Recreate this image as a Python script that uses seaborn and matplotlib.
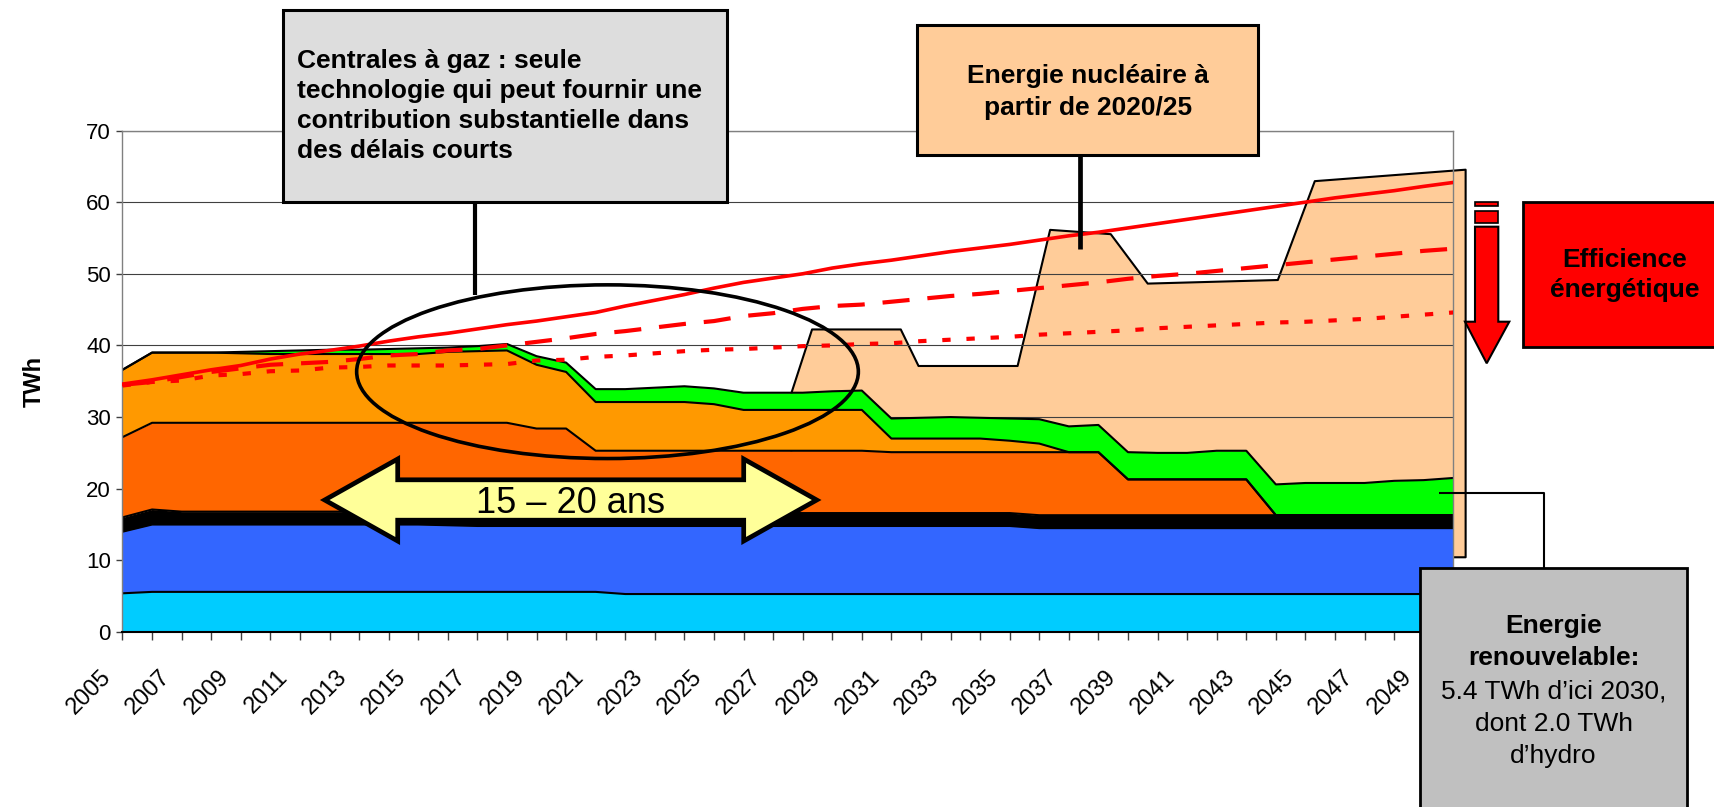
import numpy as np
import matplotlib
matplotlib.use("Agg")
import matplotlib.pyplot as plt
import seaborn as sns
from matplotlib.patches import Rectangle, Polygon, Ellipse
from matplotlib.lines import Line2D
from matplotlib.transforms import ScaledTranslation

years = list(range(2005, 2051))
tick_years = list(range(2005, 2050, 2))

# production par filiere (TWh), du bas vers le haut de la pile
cyan_twh = [5.4, 5.6, 5.6, 5.6, 5.6, 5.6, 5.6, 5.6, 5.6, 5.6,
            5.6, 5.6, 5.6, 5.6, 5.6, 5.6, 5.6, 5.3, 5.3, 5.3,
            5.3, 5.3, 5.3, 5.3, 5.3, 5.3, 5.3, 5.3, 5.3, 5.3,
            5.3, 5.3, 5.3, 5.3, 5.3, 5.3, 5.3, 5.3, 5.3, 5.3,
            5.3, 5.3, 5.3, 5.3, 5.3, 5.3]
blue_twh = [8.6, 9.4, 9.4, 9.4, 9.4, 9.4, 9.4, 9.4, 9.4, 9.4,
            9.4, 9.3, 9.2, 9.2, 9.2, 9.2, 9.2, 9.5, 9.5, 9.5,
            9.5, 9.5, 9.5, 9.5, 9.5, 9.5, 9.5, 9.5, 9.5, 9.5,
            9.5, 9.2, 9.2, 9.2, 9.2, 9.2, 9.2, 9.2, 9.2, 9.2,
            9.2, 9.2, 9.2, 9.2, 9.2, 9.2]
black_twh = [2.0, 2.1, 1.8, 1.8, 1.8, 1.8, 1.8, 1.8, 1.8, 1.8,
             1.8, 1.8, 1.8, 1.8, 1.8, 1.8, 1.8, 1.8, 1.8, 1.8,
             1.8, 1.8, 1.8, 1.8, 1.8, 1.8, 1.8, 1.8, 1.8, 1.8,
             1.8, 1.8, 1.8, 1.8, 1.8, 1.8, 1.8, 1.8, 1.8, 1.8,
             1.8, 1.8, 1.8, 1.8, 1.8, 1.8]
darkorange_twh = [11.2, 12.1, 12.4, 12.4, 12.4, 12.4, 12.4, 12.4, 12.4, 12.4,
                  12.4, 12.5, 12.6, 12.6, 11.8, 11.8, 8.7, 8.7, 8.7, 8.7,
                  8.7, 8.7, 8.7, 8.7, 8.7, 8.7, 8.5, 8.5, 8.5, 8.5,
                  8.5, 8.8, 8.8, 8.8, 5.0, 5.0, 5.0, 5.0, 5.0, 0.0,
                  0.0, 0.0, 0.0, 0.0, 0.0, 0.0]
orange_twh = [9.4, 9.8, 9.8, 9.8, 9.7, 9.6, 9.6, 9.6, 9.6, 9.6,
              9.6, 9.9, 10.0, 10.1, 8.9, 7.9, 6.8, 6.8, 6.8, 6.8,
              6.5, 5.7, 5.7, 5.7, 5.7, 5.7, 1.9, 1.9, 1.9, 1.9,
              1.6, 1.2, 0.0, 0.0, 0.0, 0.0, 0.0, 0.0, 0.0, 0.0,
              0.0, 0.0, 0.0, 0.0, 0.0, 0.0]
green_twh = [0.0, 0.0, 0.0, 0.0, 0.2, 0.4, 0.5, 0.6, 0.6, 0.7,
             0.8, 0.6, 0.7, 0.9, 1.2, 1.3, 1.8, 1.8, 2.0, 2.2,
             2.2, 2.4, 2.4, 2.4, 2.6, 2.7, 2.8, 2.9, 3.0, 2.9,
             3.1, 3.4, 3.6, 3.8, 3.8, 3.7, 3.7, 4.0, 4.0, 4.3,
             4.5, 4.5, 4.5, 4.8, 4.9, 5.2]

# demande (TWh)
demand_high = [34.6, 35.2, 35.9, 36.6, 37.2, 38.1, 38.8, 39.3, 39.9, 40.6,
               41.2, 41.7, 42.3, 42.9, 43.4, 44.0, 44.6, 45.5, 46.3, 47.1,
               48.0, 48.8, 49.4, 50.0, 50.8, 51.4, 51.9, 52.5, 53.1, 53.6,
               54.1, 54.7, 55.3, 55.8, 56.4, 57.0, 57.6, 58.2, 58.8, 59.4,
               60.0, 60.6, 61.1, 61.6, 62.2, 62.75]
demand_mid = [34.5, 34.9, 35.6, 36.3, 36.8, 37.3, 37.5, 37.7, 38.1, 38.6,
              38.8, 39.3, 39.5, 40.0, 40.5, 41.0, 41.6, 42.0, 42.5, 43.0,
              43.4, 44.1, 44.5, 45.1, 45.5, 45.7, 46.1, 46.5, 46.9, 47.2,
              47.6, 48.0, 48.4, 48.8, 49.3, 49.7, 50.0, 50.4, 50.8, 51.2,
              51.6, 52.0, 52.4, 52.8, 53.2, 53.5]
demand_low = [34.4, 34.9, 35.1, 35.8, 36.0, 36.4, 36.5, 36.9, 37.0, 37.2,
              37.2, 37.2, 37.3, 37.4, 37.9, 38.0, 38.4, 38.6, 38.9, 39.2,
              39.4, 39.5, 39.7, 39.9, 40.0, 40.2, 40.3, 40.6, 40.8, 41.0,
              41.2, 41.5, 41.7, 41.9, 42.1, 42.4, 42.6, 42.8, 43.0, 43.2,
              43.3, 43.5, 43.7, 44.0, 44.3, 44.6]

# bloc nucleaire (contour superieur, annee / TWh)
nuc_years = [2027.6, 2028.3, 2031.3, 2031.9, 2035.25, 2036.35, 2038.4, 2039.65, 2044.05, 2045.3, 2050.4]
nuc_top = [33.4, 42.3, 42.3, 37.2, 37.2, 56.2, 55.6, 48.7, 49.2, 63.0, 64.6]
nuc_base = 10.5

sns.set_style("white")
plt.rcParams['font.family'] = ['Liberation Sans', 'DejaVu Sans']
plt.rcParams['text.color'] = 'black'
plt.rcParams['axes.labelcolor'] = 'black'

W, H = 1715, 807
fig = plt.figure(figsize=(W / 100, H / 100), dpi=100)
ax = fig.add_axes([122.5 / W, 1 - 632 / H, (1453.3 - 122.5) / W, (632 - 130.5) / H])


def fx(x):
    return x / W


def fy(y):
    return 1 - y / H


# stacked areas
layers = np.array([cyan_twh, blue_twh, black_twh, darkorange_twh, orange_twh, green_twh])
colors = ['#00CCFF', '#3366FF', '#000000', '#FF6600', '#FF9900', '#00FF00']
tops = np.cumsum(layers, axis=0)
bottom = np.zeros(len(years))
for top, c in zip(tops, colors):
    ax.fill_between(years, bottom, top, color=c, lw=0, zorder=2)
    ax.plot(years, top, color='black', lw=1.5, zorder=2.2)
    bottom = top

# nuclear block sits behind the grid
ax.fill_between(nuc_years, nuc_base, nuc_top, facecolor='#FFCC99', edgecolor='black',
                lw=1.5, zorder=1, clip_on=False)

# demand scenarios
sns.lineplot(x=years, y=demand_high, color='#FF0000', lw=2.6, ax=ax, zorder=3)
sns.lineplot(x=years, y=demand_mid, color='#FF0000', lw=3, linestyle=(0, (6.5, 4.3)), ax=ax, zorder=3)
sns.lineplot(x=years, y=demand_low, color='#FF0000', lw=3, linestyle=(0, (2.0, 3.8)), ax=ax, zorder=3)

ax.set_xlim(2005, 2050)
ax.set_ylim(0, 70)
ax.set_yticks(range(0, 71, 10))
ax.set_xticks(years)
ax.set_xticklabels([str(y) if y in tick_years else '' for y in years],
                   rotation=45, ha='right', va='center', rotation_mode='anchor')
ax.tick_params(axis='x', bottom=True, length=5.8, width=1, pad=24, labelsize=17,
               color='#404040', labelcolor='black')
ax.tick_params(axis='y', left=True, length=4.3, width=1, pad=4, labelsize=16,
               color='#404040', labelcolor='black')
shift = ScaledTranslation(-0.15, 0, fig.dpi_scale_trans)
for lab in ax.get_xticklabels():
    lab.set_transform(lab.get_transform() + shift)

ax.yaxis.grid(True, color='#404040', lw=0.8)
ax.xaxis.grid(False)
ax.set_axisbelow('line')
for s in ['top', 'right', 'left']:
    ax.spines[s].set_color('#808080')
    ax.spines[s].set_linewidth(1)
ax.spines['bottom'].set_color('black')
ax.spines['bottom'].set_linewidth(1.5)

ax.set_xlabel('')
ax.set_ylabel('TWh', fontsize=17, fontweight='bold', color='black')
ax.yaxis.set_label_coords(-0.058, 0.5)


# annotations (figure pixel coordinates)
def box(x0, y0, x1, y1, fc, lw=2):
    fig.add_artist(Rectangle((fx(x0), fy(y1)), (x1 - x0) / W, (y1 - y0) / H,
                             transform=fig.transFigure, facecolor=fc,
                             edgecolor='black', lw=lw, zorder=5))


def seg(xs, ys, lw):
    fig.add_artist(Line2D([fx(x) for x in xs], [fy(y) for y in ys],
                          transform=fig.transFigure, color='black', lw=lw,
                          zorder=4, solid_capstyle='butt'))


def text_lines(x, baselines, texts, ha='center', **kw):
    for y, s in zip(baselines, texts):
        fig.text(fx(x), fy(y), s, ha=ha, va='baseline', color='black', zorder=6, **kw)


# gas plants
seg([474.6, 474.6], [202, 295], 3)
fig.add_artist(Ellipse((fx(607.5), fy(371.7)), 501.7 / W, 173.7 / H,
                       transform=fig.transFigure, fill=False, edgecolor='black',
                       lw=2.6, zorder=4))
box(282.5, 10, 726.8, 202.3, '#DDDDDD', 2.2)
text_lines(296.7, [68.3, 98.3, 128.3, 158.3],
           ["Centrales à gaz : seule", "technologie qui peut fournir une",
            "contribution substantielle dans", "des délais courts"],
           ha='left', fontsize=19, fontweight='bold')

# nuclear
seg([1080, 1080], [155, 249.3], 3.4)
box(917.3, 25, 1258, 155, '#FFCC99', 2.2)
text_lines(1087.6, [83.3, 115], ["Energie nucléaire à", "partir de 2020/25"],
           fontsize=19, fontweight='bold')

# efficiency arrow + box
for y0, y1 in [(202, 206.5), (211, 222.7)]:
    fig.add_artist(Rectangle((fx(1475), fy(y1)), 23.3 / W, (y1 - y0) / H,
                             transform=fig.transFigure, facecolor='#FF0000',
                             edgecolor='black', lw=1.2, zorder=5))
arrow_down = [(1475, 226.7), (1498.3, 226.7), (1498.3, 321.7), (1509.3, 321.7),
              (1486.7, 363.3), (1465, 321.7), (1475, 321.7)]
fig.add_artist(Polygon([(fx(x), fy(y)) for x, y in arrow_down], closed=True,
                       transform=fig.transFigure, facecolor='#FF0000',
                       edgecolor='black', lw=1.5, zorder=5))
box(1523.3, 202.3, 1760, 346.7, '#FF0000', 2)
text_lines(1624.7, [267.3, 296.7], ["Efficience", "énergétique"],
           fontsize=19, fontweight='bold')

# renewables
seg([1439, 1544, 1544], [493, 493, 568.3], 1.5)
box(1420.5, 568.3, 1686.7, 840, '#C0C0C0', 2)
text_lines(1553.6, [632.7, 665], ["Energie", "renouvelable:"], fontsize=19, fontweight='bold')
text_lines(1553.6, [698, 731, 763], ["5.4 TWh d\u2019ici 2030,", "dont 2.0 TWh", "d\u2019hydro"],
           fontsize=19)

# 15-20 years double arrow
dbl = [(324.7, 500), (397.7, 459), (397.7, 479.8), (743.7, 479.8), (743.7, 459),
       (816.7, 500), (743.7, 541), (743.7, 520.2), (397.7, 520.2), (397.7, 541)]
fig.add_artist(Polygon([(fx(x), fy(y)) for x, y in dbl], closed=True,
                       transform=fig.transFigure, facecolor='#FFFF99',
                       edgecolor='black', lw=3.4, joinstyle='miter', zorder=5))
fig.text(fx(570.7), fy(513.3), "15 \u2013 20 ans", ha='center', va='baseline',
         fontsize=26, color='black', zorder=6)

fig.savefig("out.png", dpi=100)
